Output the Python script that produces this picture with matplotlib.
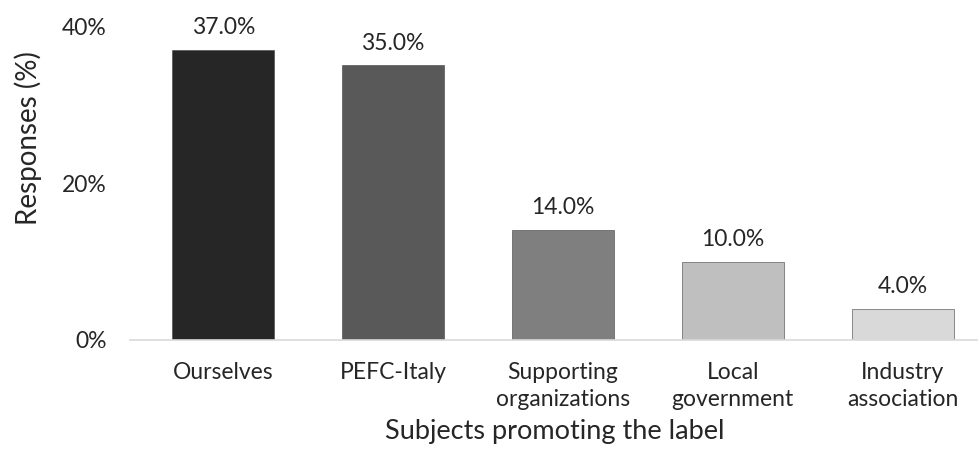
import matplotlib
matplotlib.use("Agg")
import matplotlib.pyplot as plt
import numpy as np
from matplotlib.ticker import FuncFormatter

categories = ["Ourselves", "PEFC-Italy", "Supporting\norganizations", "Local\ngovernment", "Industry\nassociation"]
responses = [37.0, 35.0, 14.0, 10.0, 4.0]
bar_colors = ["#262626", "#595959", "#7f7f7f", "#bfbfbf", "#d9d9d9"]
y_ticks = [0, 20, 40]

plt.rcParams["font.family"] = ["Lato", "DejaVu Sans"]

fig = plt.figure(figsize=(9.79, 4.57), dpi=100)
ax = fig.add_axes([130 / 979, (457 - 340) / 457, 1 - 130 / 979, (340 - 5) / 457])

x = np.arange(len(categories))
bars = ax.bar(x, responses, width=0.6, color=bar_colors, edgecolor="#404040", linewidth=0.4, zorder=2)

# value labels above bars
for xi, val in zip(x, responses):
    ax.text(xi, val + 1.5, f"{val:.1f}%", ha="center", va="bottom", fontsize=16.5, color="#262626")

ax.set_xlim(-0.55, 4.45)
ax.set_ylim(0, 42.7)
ax.set_yticks(y_ticks)
ax.yaxis.set_major_formatter(FuncFormatter(lambda v, pos: f"{v:.0f}%"))
ax.set_xticks(x)
ax.set_xticklabels(categories, fontsize=16.5, color="#262626", linespacing=1.35)
ax.tick_params(axis="y", labelsize=16.5, labelcolor="#262626", length=0, pad=17)
ax.tick_params(axis="x", length=0, pad=16)

for side in ["top", "right", "left"]:
    ax.spines[side].set_visible(False)
ax.spines["bottom"].set_color("#d9d9d9")
ax.spines["bottom"].set_linewidth(1.2)

ax.set_ylabel("Responses (%)", fontsize=20, color="#262626")
ax.yaxis.set_label_coords(-0.104, 0.603)
ax.set_xlabel("Subjects promoting the label", fontsize=19.5, color="#262626", labelpad=6)

fig.savefig("out.png", dpi=100)
